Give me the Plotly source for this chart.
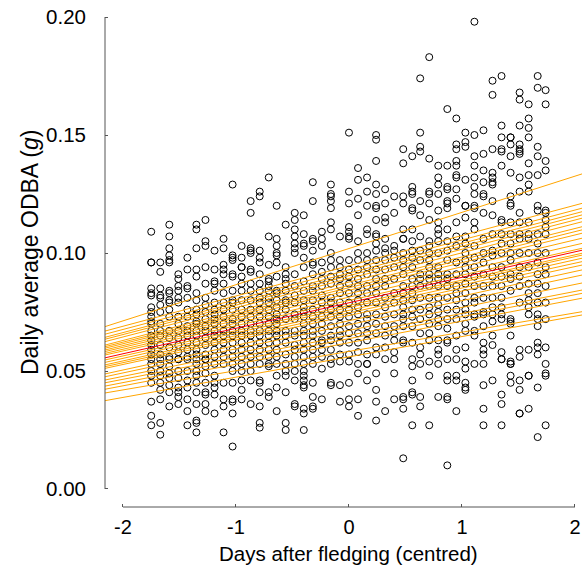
import plotly.graph_objects as go

# x positions (days after fledging, centred) of the measurement columns
days = [-1.75, -1.67, -1.59, -1.51, -1.43, -1.35, -1.27, -1.19, -1.11, -1.03,
        -0.95, -0.87, -0.79, -0.71, -0.64, -0.56, -0.48, -0.40, -0.32, -0.24,
        -0.16, -0.08, 0.00, 0.08, 0.16, 0.24, 0.32, 0.40, 0.48, 0.56,
        0.63, 0.71, 0.79, 0.87, 0.95, 1.03, 1.11, 1.19, 1.27, 1.35,
        1.43, 1.51, 1.59, 1.67, 1.74]

# daily average ODBA (g) observed in each column
odba = [
    [.109,.096,.096,.085,.083,.082,.077,.075,.073,.071,.070,.067,.065,.063,.061,.059,.057,.055,.053,.050,.048,.045,.037,.031,.027],
    [.096,.092,.085,.082,.081,.078,.075,.070,.067,.065,.061,.057,.055,.053,.050,.048,.045,.042,.038,.028,.023],
    [.112,.107,.102,.099,.097,.096,.084,.083,.080,.079,.076,.073,.067,.064,.060,.056,.055,.052,.049,.047,.044,.041,.035],
    [.091,.089,.086,.084,.081,.079,.073,.070,.067,.064,.061,.058,.055,.055,.050,.047,.043,.041,.039,.036],
    [.098,.093,.086,.085,.081,.076,.073,.069,.067,.065,.062,.059,.056,.055,.050,.046,.043,.038,.033,.027],
    [.112,.110,.102,.093,.090,.083,.080,.076,.074,.071,.070,.067,.065,.062,.059,.057,.055,.053,.050,.048,.045,.041,.036,.029,.028,.024],
    [.114,.105,.103,.094,.087,.081,.078,.075,.072,.069,.067,.064,.061,.057,.055,.055,.052,.049,.045,.041,.040,.036,.033],
    [.101,.093,.088,.087,.084,.079,.076,.074,.072,.070,.067,.065,.062,.059,.056,.053,.048,.045,.043,.040,.032],
    [.106,.102,.095,.093,.091,.087,.083,.079,.076,.073,.070,.067,.065,.062,.059,.056,.053,.045,.038,.035,.024],
    [.129,.099,.098,.097,.091,.090,.084,.080,.079,.076,.072,.070,.067,.065,.062,.059,.056,.053,.050,.045,.038,.037,.032,.018],
    [.103,.098,.094,.094,.090,.087,.084,.080,.076,.073,.070,.067,.065,.062,.059,.056,.053,.050,.046,.042,.038],
    [.122,.117,.102,.101,.100,.093,.092,.087,.084,.080,.076,.073,.070,.067,.065,.062,.059,.056,.053,.050,.046,.036],
    [.126,.124,.101,.098,.096,.091,.087,.084,.081,.079,.076,.073,.070,.067,.065,.062,.059,.056,.053,.046,.045,.041,.035,.028,.026],
    [.132,.107,.095,.089,.088,.086,.084,.081,.079,.076,.073,.070,.067,.065,.062,.059,.056,.053,.052,.041,.039],
    [.120,.106,.103,.100,.099,.096,.090,.084,.083,.080,.077,.074,.072,.070,.067,.065,.062,.059,.056,.053,.048,.043,.033],
    [.112,.094,.091,.089,.087,.084,.080,.079,.076,.072,.067,.065,.062,.057,.053,.050,.048,.041,.028,.025],
    [.117,.114,.110,.107,.104,.102,.100,.091,.086,.082,.079,.074,.072,.067,.065,.061,.059,.056,.053,.050,.046,.036,.035],
    [.116,.108,.104,.103,.098,.094,.088,.084,.080,.077,.075,.073,.070,.067,.065,.062,.059,.056,.053,.050,.048,.046,.044,.043,.034,.032,.025],
    [.130,.122,.106,.105,.101,.096,.095,.091,.086,.084,.080,.076,.073,.070,.067,.065,.062,.059,.056,.053,.045,.039,.035,.034],
    [.109,.106,.103,.096,.092,.089,.086,.082,.079,.076,.073,.070,.067,.063,.062,.059,.056,.051,.038],
    [.129,.125,.124,.122,.119,.113,.110,.100,.097,.094,.090,.087,.081,.079,.076,.073,.069,.065,.063,.059,.055,.053,.045,.044],
    [.107,.097,.094,.091,.089,.086,.083,.079,.076,.073,.070,.067,.065,.062,.057,.054,.044,.037],
    [.151,.126,.121,.111,.109,.107,.106,.097,.093,.090,.087,.083,.079,.076,.073,.069,.066,.062,.057,.054,.045,.038,.035],
    [.136,.131,.123,.116,.105,.100,.097,.093,.089,.086,.083,.080,.077,.074,.070,.066,.062,.058,.053,.049,.038,.031],
    [.132,.126,.120,.110,.108,.100,.097,.094,.091,.086,.083,.079,.074,.072,.069,.066,.063,.057,.053,.053,.046],
    [.150,.148,.139,.129,.125,.120,.119,.114,.108,.107,.104,.101,.097,.093,.089,.086,.083,.079,.074,.070,.066,.060,.057,.049,.042,.037,.029],
    [.127,.121,.115,.113,.106,.102,.100,.097,.093,.089,.086,.081,.077,.073,.069,.065,.060,.055,.033],
    [.124,.117,.103,.101,.098,.094,.089,.083,.079,.074,.069,.066,.063,.058,.055,.049,.038],
    [.144,.138,.124,.121,.110,.106,.106,.100,.097,.094,.091,.086,.083,.080,.077,.074,.072,.069,.063,.062,.039,.038,.034,.013],
    [.141,.128,.126,.125,.119,.118,.110,.105,.101,.098,.094,.089,.086,.083,.080,.076,.073,.069,.062,.055,.052,.046,.041,.040,.027],
    [.174,.151,.145,.143,.122,.116,.107,.101,.097,.091,.089,.086,.081,.076,.072,.066,.060,.057,.053,.039,.035],
    [.183,.140,.126,.125,.121,.114,.105,.103,.100,.097,.094,.091,.089,.086,.081,.077,.074,.070,.066,.063,.054,.048,.027],
    [.137,.132,.129,.125,.118,.113,.110,.108,.105,.100,.094,.091,.089,.086,.081,.078,.075,.072,.069,.063,.059,.057,.053,.039],
    [.161,.137,.128,.127,.122,.121,.119,.110,.105,.101,.097,.091,.089,.086,.081,.076,.072,.068,.063,.062,.055,.048,.046,.039,.038,.010],
    [.157,.146,.144,.139,.137,.133,.132,.127,.123,.113,.107,.103,.096,.091,.086,.083,.080,.076,.072,.065,.059,.055,.048,.046,.033],
    [.151,.147,.145,.131,.120,.120,.115,.107,.104,.100,.097,.094,.091,.087,.083,.079,.076,.074,.070,.067,.060,.054,.051,.045,.043,.042],
    [.198,.150,.141,.137,.132,.128,.125,.120,.119,.113,.110,.103,.098,.094,.090,.086,.081,.079,.074,.073,.067,.065,.053],
    [.152,.142,.135,.130,.125,.124,.117,.106,.100,.096,.091,.086,.081,.075,.074,.069,.062,.059,.057,.053,.044,.034,.027],
    [.173,.167,.144,.134,.132,.130,.129,.122,.116,.108,.101,.099,.094,.090,.086,.081,.077,.074,.071,.065,.061,.046],
    [.175,.154,.149,.144,.143,.137,.114,.113,.108,.104,.100,.094,.090,.086,.081,.077,.074,.072,.058,.055,.055,.040,.036,.027],
    [.149,.149,.146,.141,.134,.124,.121,.120,.113,.108,.104,.100,.097,.091,.089,.084,.072,.071,.070,.065,.054,.053,.053,.048,.045],
    [.168,.165,.154,.146,.144,.143,.142,.132,.126,.117,.113,.108,.106,.100,.094,.090,.086,.079,.059,.056,.046,.042,.032,.032],
    [.163,.157,.153,.149,.138,.133,.129,.126,.113,.108,.106,.100,.094,.087,.083,.080,.077,.074,.059,.048,.048,.034],
    [.175,.170,.145,.141,.133,.120,.118,.108,.104,.100,.096,.091,.087,.083,.079,.074,.072,.069,.062,.060,.057,.043,.022],
    [.169,.163,.139,.135,.118,.117,.114,.111,.108,.100,.094,.091,.086,.079,.072,.060,.053,.049,.048,.027],
]

# individual-level fitted lines (intercept at day 0, slope per day)
ind_intercepts = [0.1019, 0.0946, 0.0929, 0.0915, 0.0904, 0.0892, 0.0877, 0.0863, 0.0853,
                  0.0842, 0.0828, 0.0813, 0.0799, 0.0778, 0.0769, 0.0757, 0.0746, 0.0735,
                  0.0713, 0.0696, 0.0672, 0.0651, 0.0637, 0.0620, 0.0583, 0.0560]
ind_slopes = [0.01533, 0.01282, 0.01265, 0.01261, 0.01248, 0.01239, 0.01238, 0.01204, 0.01188,
              0.01172, 0.01138, 0.01104, 0.01071, 0.01071, 0.01077, 0.01071, 0.01054, 0.01037,
              0.01044, 0.01021, 0.00974, 0.00931, 0.00931, 0.00914, 0.00816, 0.00860]

# population-level fitted line
pop_intercept = 0.0789
pop_slope = 0.0108

x_ticks = [-2, -1, 0, 1, 2]
y_ticks = [0.00, 0.05, 0.10, 0.15, 0.20]
y_ticktext = ["0.00", "0.05", "0.10", "0.15", "0.20"]

FONT = "Liberation Sans, Arial, sans-serif"
AXC = "#555555"

px, py = [], []
for d, col in zip(days, odba):
    for v in col:
        px.append(d)
        py.append(v)

fig = go.Figure()
fig.add_trace(go.Scatter(
    x=px, y=py, mode="markers",
    marker=dict(symbol="circle-open", size=7, color="black", line=dict(width=1, color="black")),
    showlegend=False, hoverinfo="skip", cliponaxis=False))

xl = [-2.3, 2.3]
for a, b in zip(ind_intercepts, ind_slopes):
    fig.add_trace(go.Scatter(x=xl, y=[a + b * xl[0], a + b * xl[1]], mode="lines",
                             line=dict(color="orange", width=1), showlegend=False, hoverinfo="skip"))
fig.add_trace(go.Scatter(x=xl, y=[pop_intercept + pop_slope * xl[0], pop_intercept + pop_slope * xl[1]],
                         mode="lines", line=dict(color="red", width=1), showlegend=False, hoverinfo="skip"))

fig.update_layout(
    width=582, height=572,
    margin=dict(l=105, r=0, t=10, b=65),
    paper_bgcolor="white", plot_bgcolor="white",
    font=dict(family=FONT, size=20, color="black"),
    xaxis=dict(range=[-2.159, 2.062], tickvals=x_ticks, ticktext=[str(t) for t in x_ticks],
               ticks="inside", ticklen=3, tickcolor=AXC, showgrid=False, zeroline=False,
               showline=False, ticklabelstandoff=6, tickfont=dict(size=20)),
    yaxis=dict(range=[-0.00763, 0.20297], tickvals=y_ticks, ticktext=y_ticktext,
               ticks="inside", ticklen=3, tickcolor=AXC, showgrid=False, zeroline=False,
               showline=False, ticklabelstandoff=18, tickfont=dict(size=20.5)),
    shapes=[
        dict(type="line", xref="x", yref="paper", x0=-2, x1=2, y0=0, y1=0,
             line=dict(color=AXC, width=1)),
        dict(type="line", xref="paper", yref="y", x0=0, x1=0, y0=0, y1=0.2,
             line=dict(color=AXC, width=1)),
    ],
    annotations=[
        dict(text="Days after fledging (centred)", xref="x", yref="paper", x=0, y=0,
             yshift=-46, showarrow=False, xanchor="center", yanchor="middle",
             font=dict(size=20.5, family=FONT)),
        dict(text="Daily average ODBA (<i>g</i>)", xref="paper", yref="y", x=0, y=0.1,
             xshift=-75, showarrow=False, textangle=-90, xanchor="center", yanchor="middle",
             font=dict(size=23, family=FONT)),
    ],
)

fig.write_html("out.html")
